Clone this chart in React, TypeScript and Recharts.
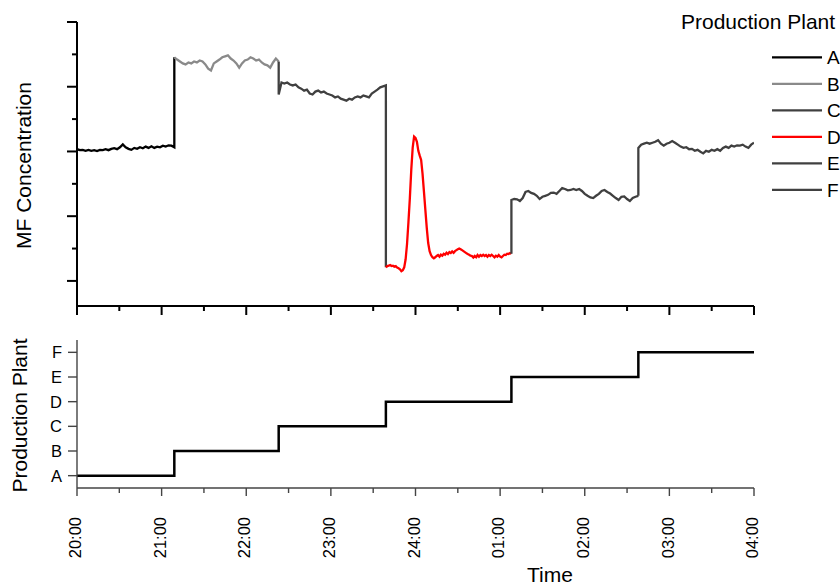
import React from "react";
import { LineChart, Line, XAxis, YAxis } from "recharts";

// Plant changeover log + MF concentration trace, 20:00 -> 04:00.
// Time is in minutes after 20:00, concentration in arbitrary units (1 unit per y tick).

const PLANTS = ["A", "B", "C", "D", "E", "F"];
const PLANT_COLORS = ["#000000", "#8a8a8a", "#404040", "#ff0000", "#404040", "#404040"];

// minute each plant took over; last entry is the end of the record
const SWITCH_MIN = [0, 69, 143, 219, 308, 398, 480];

const TIME_TICKS = [0, 30, 60, 90, 120, 150, 180, 210, 240, 270, 300, 330, 360, 390, 420, 450, 480];
const HOUR_LABELS = ["20:00", "21:00", "22:00", "23:00", "24:00", "01:00", "02:00", "03:00", "04:00"];
const MF_TICKS = [0, 1, 2, 3, 4, 5, 6, 7, 8];
const PLANT_TICKS = [0, 1, 2, 3, 4, 5];

// readings, evenly spaced across each plant's window
const MF_A = [
  4.07, 4.04, 4.05, 4.02, 4.05, 4.02, 4.04, 4.01, 4.05, 4.04,
  4.07, 4.04, 4.08, 4.1, 4.07, 4.13, 4.22, 4.13, 4.08, 4.05,
  4.11, 4.08, 4.13, 4.1, 4.15, 4.11, 4.16, 4.11, 4.15, 4.13,
  4.18, 4.15, 4.19, 4.18, 4.13,
];
const MF_B = [
  6.91, 6.84, 6.78, 6.72, 6.69, 6.75, 6.72, 6.78, 6.75, 6.81,
  6.78, 6.69, 6.56, 6.5, 6.72, 6.78, 6.84, 6.91, 6.94, 6.97,
  6.87, 6.81, 6.72, 6.59, 6.72, 6.81, 6.84, 6.91, 6.87, 6.81,
  6.84, 6.75, 6.69, 6.66, 6.59, 6.75, 6.87, 6.78,
];
const MF_C = [
  5.76, 6.13, 6.1, 6.13, 6.07, 6.04, 6.07, 5.98, 5.94, 5.88,
  5.91, 5.79, 5.76, 5.85, 5.88, 5.82, 5.85, 5.79, 5.76, 5.73,
  5.67, 5.7, 5.63, 5.6, 5.57, 5.63, 5.6, 5.67, 5.7, 5.67,
  5.73, 5.7, 5.67, 5.79, 5.85, 5.91, 5.98, 6.01, 6.04,
];
const MF_D = [
  0.42, 0.46, 0.47, 0.49, 0.46, 0.47, 0.44, 0.46, 0.41, 0.39,
  0.36, 0.3, 0.33, 0.42, 0.67, 1.14, 1.82, 2.56, 3.43, 4.11,
  4.46, 4.42, 4.3, 4.02, 3.87, 3.74, 3.31, 2.75, 2.19, 1.63,
  1.17, 0.92, 0.8, 0.73, 0.7, 0.73, 0.77, 0.8, 0.75, 0.81,
  0.78, 0.84, 0.81, 0.87, 0.83, 0.89, 0.86, 0.91, 0.87, 0.92,
  0.95, 0.98, 1.0, 0.98, 0.95, 0.92, 0.89, 0.86, 0.83, 0.81,
  0.78, 0.77, 0.72, 0.77, 0.73, 0.8, 0.75, 0.8, 0.77, 0.81,
  0.77, 0.8, 0.75, 0.8, 0.77, 0.81, 0.77, 0.73, 0.78, 0.75,
  0.8, 0.75, 0.73, 0.77, 0.81, 0.8, 0.84, 0.83, 0.86, 0.84,
];
const MF_E = [
  2.5, 2.53, 2.52, 2.47, 2.56, 2.75, 2.78, 2.72, 2.69, 2.63,
  2.53, 2.6, 2.63, 2.66, 2.72, 2.73, 2.69, 2.78, 2.87, 2.84,
  2.8, 2.81, 2.84, 2.81, 2.84, 2.78, 2.69, 2.63, 2.58, 2.56,
  2.63, 2.69, 2.78, 2.81, 2.75, 2.7, 2.63, 2.56, 2.5, 2.6,
  2.61, 2.53, 2.47, 2.56, 2.6, 2.63,
];
const MF_F = [
  4.11, 4.21, 4.24, 4.27, 4.24, 4.27, 4.3, 4.35, 4.24, 4.18,
  4.24, 4.27, 4.32, 4.27, 4.21, 4.15, 4.11, 4.13, 4.07, 4.08,
  4.02, 4.05, 3.99, 3.94, 4.02, 3.99, 4.05, 4.02, 4.07, 4.02,
  4.11, 4.15, 4.11, 4.18, 4.15, 4.19, 4.18, 4.21, 4.15, 4.11,
  4.21, 4.27,
];

const MF_BY_PLANT = [MF_A, MF_B, MF_C, MF_D, MF_E, MF_F];
// which side draws the vertical jump at each changeover
const JOIN_PREV = [false, false, true, false, true, true];
const JOIN_NEXT = [true, false, true, false, false, false];

const FONT = "'Liberation Sans', Arial, sans-serif";

type Pt = { t: number; v: number };

function buildSeries(i: number): Pt[] {
  const vals = MF_BY_PLANT[i];
  const t0 = SWITCH_MIN[i];
  const t1 = SWITCH_MIN[i + 1];
  const pts: Pt[] = vals.map((v, k) => ({ t: t0 + (k * (t1 - t0)) / (vals.length - 1), v }));
  if (JOIN_PREV[i]) {
    const prev = MF_BY_PLANT[i - 1];
    pts.unshift({ t: t0, v: prev[prev.length - 1] });
  }
  if (JOIN_NEXT[i]) pts.push({ t: t1, v: MF_BY_PLANT[i + 1][0] });
  return pts;
}

const SERIES = PLANTS.map((_, i) => buildSeries(i));
const STEPS = SWITCH_MIN.map((t, i) => ({ t, p: Math.min(i, PLANTS.length - 1) }));

function MfTick({ x, y, payload }: any) {
  const len = payload.value % 2 === 0 ? 10 : 5;
  return <line x1={x - len} x2={x} y1={y} y2={y} stroke="#000" strokeWidth={2} />;
}

function TopTimeTick({ x, y, payload }: any) {
  const len = payload.value % 60 === 0 ? 9 : 5;
  return <line x1={x} x2={x} y1={y} y2={y + len} stroke="#000" strokeWidth={2} />;
}

function BottomTimeTick({ x, y, payload }: any) {
  const major = payload.value % 60 === 0;
  const ly = y + 29;
  return (
    <g>
      <line x1={x} x2={x} y1={y} y2={y + (major ? 8 : 5)} stroke="#444" strokeWidth={1.4} />
      {major && (
        <text
          x={x}
          y={ly}
          dy="0.25em"
          transform={`rotate(-90 ${x} ${ly})`}
          textAnchor="end"
          fontSize={16.5}
          fontFamily={FONT}
          fill="#000"
        >
          {HOUR_LABELS[payload.value / 60]}
        </text>
      )}
    </g>
  );
}

function PlantTick({ x, y, payload }: any) {
  return (
    <g>
      <line x1={x - 9} x2={x} y1={y} y2={y} stroke="#444" strokeWidth={1.4} />
      <text x={x - 15} y={y} dy="0.36em" textAnchor="end" fontSize={16.5} fontFamily={FONT} fill="#000">
        {PLANTS[payload.value]}
      </text>
    </g>
  );
}

export default function App() {
  return (
    <div style={{ position: "absolute", left: 0, top: 0, width: 840, height: 585, background: "#fff" }}>
      <div style={{ position: "absolute", left: 0, top: 0 }}>
        <LineChart width={840} height={320} margin={{ top: 22, right: 86, bottom: 0, left: 0 }}>
          <XAxis
            dataKey="t"
            type="number"
            domain={[0, 480]}
            ticks={TIME_TICKS}
            interval={0}
            allowDataOverflow
            height={14}
            tickSize={0}
            tickMargin={0}
            tick={<TopTimeTick />}
            axisLine={{ stroke: "#000", strokeWidth: 2 }}
          />
          <YAxis
            type="number"
            domain={[-0.775, 8]}
            ticks={MF_TICKS}
            interval={0}
            allowDataOverflow
            width={77}
            tickSize={0}
            tickMargin={0}
            tick={<MfTick />}
            axisLine={{ stroke: "#000", strokeWidth: 2 }}
          />
          {SERIES.map((pts, i) => (
            <Line
              key={PLANTS[i]}
              name={PLANTS[i]}
              data={pts}
              dataKey="v"
              type="linear"
              stroke={PLANT_COLORS[i]}
              strokeWidth={2.3}
              dot={false}
              isAnimationActive={false}
            />
          ))}
        </LineChart>
      </div>

      <div style={{ position: "absolute", left: 0, top: 320 }}>
        <LineChart width={840} height={265} data={STEPS} margin={{ top: 20, right: 86, bottom: 0, left: 0 }}>
          <XAxis
            dataKey="t"
            type="number"
            domain={[0, 480]}
            ticks={TIME_TICKS}
            interval={0}
            height={97}
            tickSize={0}
            tickMargin={0}
            tick={<BottomTimeTick />}
            axisLine={{ stroke: "#444", strokeWidth: 1.4 }}
          />
          <YAxis
            type="number"
            domain={[-0.5, 5.5]}
            ticks={PLANT_TICKS}
            interval={0}
            width={77}
            tickSize={0}
            tickMargin={0}
            tick={<PlantTick />}
            axisLine={{ stroke: "#444", strokeWidth: 1.4 }}
          />
          <Line
            dataKey="p"
            type="stepAfter"
            stroke="#000"
            strokeWidth={2.5}
            dot={false}
            isAnimationActive={false}
          />
        </LineChart>
      </div>

      <svg
        width={840}
        height={585}
        style={{ position: "absolute", left: 0, top: 0, pointerEvents: "none" }}
        fontFamily={FONT}
      >
        <text x={31} y={165.5} transform="rotate(-90 31 165.5)" textAnchor="middle" fontSize={21} fill="#000">
          MF Concentration
        </text>
        <text x={27} y={415.5} transform="rotate(-90 27 415.5)" textAnchor="middle" fontSize={21} fill="#000">
          Production Plant
        </text>
        <text x={550} y={582} textAnchor="middle" fontSize={21} fill="#000">
          Time
        </text>

        <text x={681} y={29} fontSize={21} fill="#000">
          Production Plant
        </text>
        {PLANTS.map((p, i) => {
          const cy = 57.3 + i * 26.5;
          return (
            <g key={p}>
              <line x1={772} x2={822} y1={cy} y2={cy} stroke={PLANT_COLORS[i]} strokeWidth={2.2} />
              <text x={827} y={cy + 6.8} fontSize={19} fill="#000">
                {p}
              </text>
            </g>
          );
        })}
      </svg>
    </div>
  );
}
